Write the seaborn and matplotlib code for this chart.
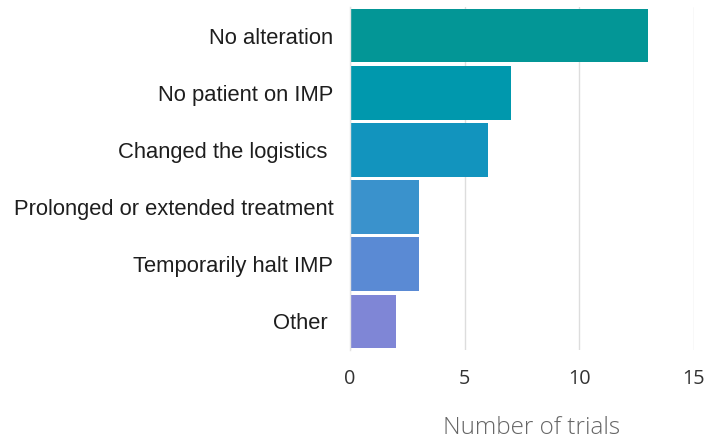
import matplotlib
matplotlib.use("Agg")
import matplotlib.pyplot as plt
import seaborn as sns
import pandas as pd

categories = ["No alteration", "No patient on IMP", "Changed the logistics ",
              "Prolonged or extended treatment", "Temporarily halt IMP", "Other "]
values = [13, 7, 6, 3, 3, 2]
colors = ["#039696", "#0098AD", "#1294BE", "#3A92CC", "#5A8AD4", "#7F86D6"]
xticks = [0, 5, 10, 15]
xlabel = "Number of trials"

sns.set_theme(style="white")
df = pd.DataFrame({"cat": categories, "val": values})

fig = plt.figure(figsize=(7.11, 4.44), dpi=100)
ax = fig.add_axes([350/711, 1 - 350/444, 344/711, 343/444])
sns.barplot(data=df, y="cat", x="val", hue="cat", palette=colors, legend=False,
            width=0.94, ax=ax, saturation=1, edgecolor="none")
ax.set_xlim(0, 15)
ax.set_xticks(xticks)
ax.grid(axis="x", color="#dddddd", linewidth=1)
ax.set_axisbelow(True)
for s in ["top", "right", "bottom"]:
    ax.spines[s].set_visible(False)
ax.spines["left"].set_color("#e4e4e4")
ax.spines["left"].set_linewidth(1)
ax.tick_params(axis="y", length=0, pad=12)
ax.tick_params(axis="x", length=0, pad=14)
ax.set_ylabel("")
for t in ax.get_yticklabels():
    t.set_fontfamily("Liberation Sans")
    t.set_fontsize(15.8)
    t.set_color("#1e1e1e")
for t in ax.get_xticklabels():
    t.set_fontfamily("Open Sans")
    t.set_fontsize(14.3)
    t.set_color("#333333")
ax.set_xlabel(xlabel, fontfamily="Open Sans", fontweight="light", fontsize=17.5, color="#666666")
ax.xaxis.set_label_coords((531.5 - 350) / 344, -(428 - 350) / 343)
ax.xaxis.label.set_va("center")
fig.savefig("out.png", dpi=100)
